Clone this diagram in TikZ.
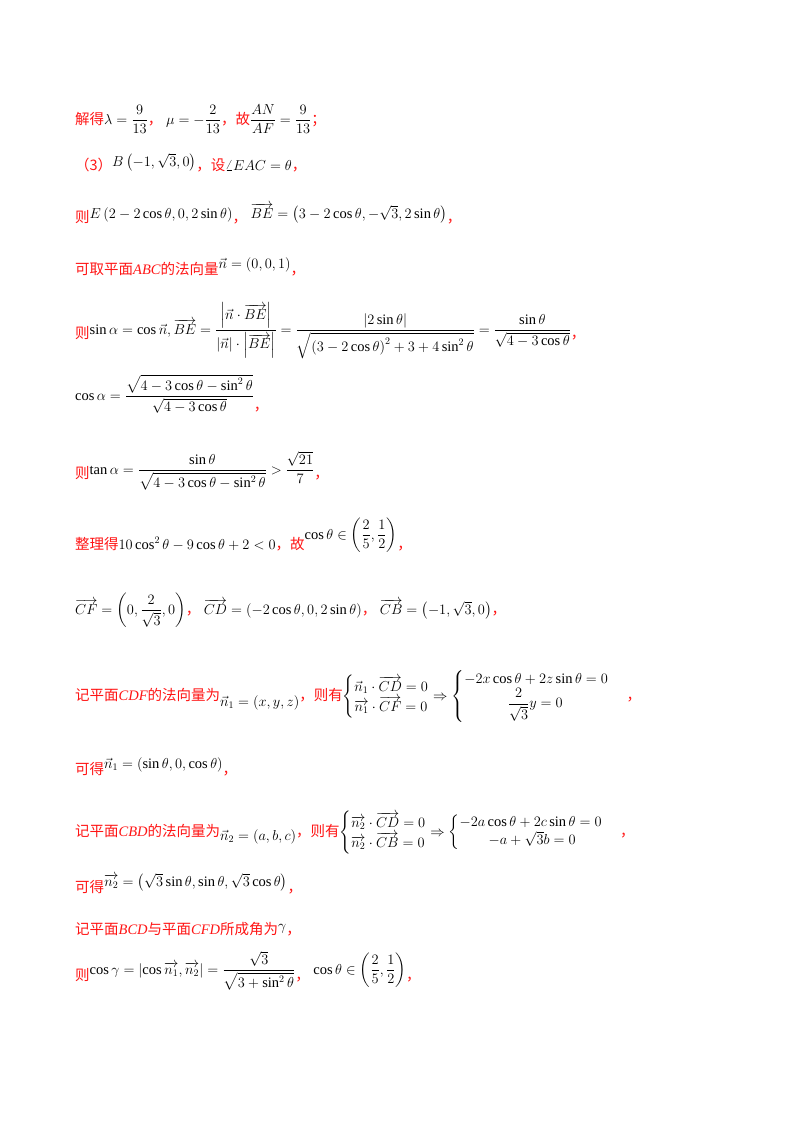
\documentclass[tikz,border=0pt]{standalone}
\usepackage{amsmath}
\usepackage{fontspec}
\setmainfont{Liberation Serif}
\newfontfamily\cjk{Noto Sans CJK SC}
\definecolor{hred}{RGB}{255,20,20}
\newcommand{\R}[1]{{\cjk\color{hred}#1}}
\newcommand{\vv}[1]{\overrightarrow{#1}}
\newcommand{\sys}[1]{\left\{\begin{array}{@{}l@{}}#1\end{array}\right.}
\tikzset{ln/.style={anchor=base west,inner sep=0pt,font=\fontsize{14.5}{17}\selectfont}}
\begin{document}
\begin{tikzpicture}[x=1pt,y=-1pt]
\useasboundingbox (0,0) rectangle (800,1132);
\node[ln] (l1) at (75,124) {\R{解得}$\lambda=\dfrac{9}{13}$\R{，}\ $\mu=-\dfrac{2}{13}$\R{，故}$\dfrac{AN}{AF}=\dfrac{9}{13}$\R{；}};
\node[ln] (l2) at (75,170) {\R{（3）}\raisebox{4pt}{$B\left(-1,\sqrt{3},0\right)$}\R{，设}$\angle EAC=\theta$\R{，}};
\node[ln] (l3) at (75,222) {\R{则}\raisebox{4pt}{$E\left(2-2\cos\theta,0,2\sin\theta\right)$}\R{，}\ \raisebox{4pt}{$\vv{BE}=\left(3-2\cos\theta,-\sqrt{3},2\sin\theta\right)$}\R{，}};
\node[ln] (l4) at (75,274) {\R{可取平面}\textcolor{hred}{\itshape ABC}\R{的法向量}\raisebox{6pt}{$\vec{n}=\left(0,0,1\right)$}\R{，}};
\node[ln] (l5) at (75,338) {\R{则}\raisebox{4pt}{$\sin\alpha=\cos\vec n,\vv{BE}=\dfrac{\left|\vec n\cdot\vv{BE}\right|}{\left|\vec n\right|\cdot\left|\vv{BE}\right|}=\dfrac{\left|2\sin\theta\right|}{\sqrt{\left(3-2\cos\theta\right)^2+3+4\sin^2\theta}}=\dfrac{\sin\theta}{\sqrt{4-3\cos\theta}}$}\R{，}};
\node[ln] (l6) at (75,400) {$\cos\alpha=\dfrac{\sqrt{4-3\cos\theta-\sin^2\theta}}{\sqrt{4-3\cos\theta}}$\raisebox{-10pt}{\R{，}}};
\node[ln] (l7) at (75,478) {\R{则}\raisebox{4pt}{$\tan\alpha=\dfrac{\sin\theta}{\sqrt{4-3\cos\theta-\sin^2\theta}}>\dfrac{\sqrt{21}}{7}$}\R{，}};
\node[ln] (l8) at (75,549) {\R{整理得}$10\cos^2\theta-9\cos\theta+2<0$\R{，故}\raisebox{10pt}{$\cos\theta\in\left(\dfrac{2}{5},\dfrac{1}{2}\right)$}\R{，}};
\node[ln] (l9) at (75,614) {$\vv{CF}=\left(0,\dfrac{2}{\sqrt3},0\right)$\R{，}\ $\vv{CD}=\left(-2\cos\theta,0,2\sin\theta\right)$\R{，}\ $\vv{CB}=\left(-1,\sqrt3,0\right)$\R{，}};
\node[ln] (l10) at (75,700) {\R{记平面}\textcolor{hred}{\itshape CDF}\R{的法向量为}\raisebox{-6pt}{$\vec n_1=\left(x,y,z\right)$}\R{，则有}$\sys{\vec n_1\cdot\vv{CD}=0\\ \vv{n_1}\cdot\vv{CF}=0}\Rightarrow\sys{-2x\cos\theta+2z\sin\theta=0\\ \qquad\quad\dfrac{2}{\sqrt3}y=0}$\hspace{1.2em}\R{，}};
\node[ln] (l11) at (75,774) {\R{可得}\raisebox{6pt}{$\vec n_1=\left(\sin\theta,0,\cos\theta\right)$}\R{，}};
\node[ln] (l12) at (75,836) {\R{记平面}\textcolor{hred}{\itshape CBD}\R{的法向量为}\raisebox{-4pt}{$\vec n_2=\left(a,b,c\right)$}\R{，则有}$\sys{\vv{n_2}\cdot\vv{CD}=0\\ \vv{n_2}\cdot\vv{CB}=0}\Rightarrow\sys{-2a\cos\theta+2c\sin\theta=0\\ \qquad -a+\sqrt3 b=0}$\hspace{1.2em}\R{，}};
\node[ln] (l13) at (75,892) {\R{可得}\raisebox{6pt}{$\vv{n_2}=\left(\sqrt3\sin\theta,\sin\theta,\sqrt3\cos\theta\right)$}\R{，}};
\node[ln] (l14) at (75,934) {\R{记平面}\textcolor{hred}{\itshape BCD}\R{与平面}\textcolor{hred}{\itshape CFD}\R{所成角为}\raisebox{4pt}{$\gamma$}\R{，}};
\node[ln] (l15) at (75,980) {\R{则}\raisebox{6pt}{$\cos\gamma=\left|\cos\vv{n_1},\vv{n_2}\right|=\dfrac{\sqrt3}{\sqrt{3+\sin^2\theta}}$}\R{，}\ \raisebox{6pt}{$\cos\theta\in\left(\dfrac{2}{5},\dfrac{1}{2}\right)$}\R{，}};
\end{tikzpicture}
\end{document}
